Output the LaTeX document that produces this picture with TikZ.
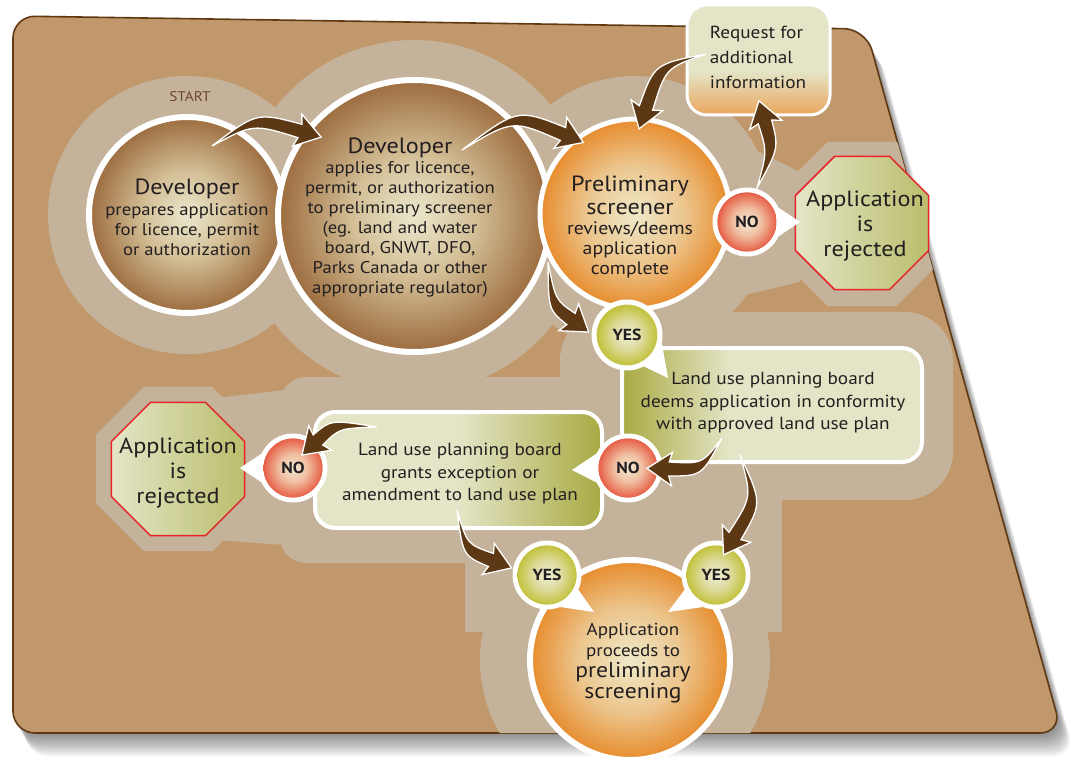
\documentclass[tikz,border=0pt]{standalone}
\usepackage{fontspec}
\setmainfont{PT Sans}[FakeStretch=1.1]
\usetikzlibrary{shapes.geometric,calc}

\definecolor{panelC}{RGB}{193,152,108}
\definecolor{panelB}{RGB}{96,57,19}
\definecolor{haloC}{RGB}{196,178,154}
\definecolor{arrowC}{RGB}{92,56,20}
\definecolor{txtC}{RGB}{35,31,32}
\definecolor{startC}{RGB}{110,72,42}
\definecolor{brC}{RGB}{234,231,204}
\definecolor{brM}{RGB}{212,192,152}
\definecolor{brE}{RGB}{156,108,62}
\definecolor{orC}{RGB}{238,232,200}
\definecolor{orM}{RGB}{236,198,142}
\definecolor{orE}{RGB}{231,140,45}
\definecolor{noC}{RGB}{242,234,212}
\definecolor{noM}{RGB}{240,190,160}
\definecolor{noE}{RGB}{230,96,72}
\definecolor{yeC}{RGB}{238,238,214}
\definecolor{yeM}{RGB}{222,220,160}
\definecolor{yeE}{RGB}{194,194,62}
\definecolor{lightG}{RGB}{228,229,199}
\definecolor{oliveG}{RGB}{168,170,66}
\definecolor{octR}{RGB}{186,190,108}
\definecolor{octB}{RGB}{232,36,40}
\definecolor{reqO}{RGB}{234,166,94}

\pgfdeclareradialshading{brownball}{\pgfpoint{0bp}{0bp}}{color(0bp)=(brC); color(11bp)=(brM); color(25bp)=(brE); color(50bp)=(brE)}
\pgfdeclareradialshading{orangeball}{\pgfpoint{0bp}{0bp}}{color(0bp)=(orC); color(13bp)=(orM); color(25bp)=(orE); color(50bp)=(orE)}
\pgfdeclareradialshading{noball}{\pgfpoint{0bp}{0bp}}{color(0bp)=(noC); color(12bp)=(noM); color(25bp)=(noE); color(50bp)=(noE)}
\pgfdeclareradialshading{yesball}{\pgfpoint{0bp}{0bp}}{color(0bp)=(yeC); color(12bp)=(yeM); color(25bp)=(yeE); color(50bp)=(yeE)}
\pgfdeclarehorizontalshading{deemsh}{100bp}{color(0bp)=(oliveG); color(25bp)=(oliveG); color(43bp)=(lightG); color(100bp)=(lightG)}
\pgfdeclarehorizontalshading{grantsh}{100bp}{color(0bp)=(lightG); color(50bp)=(lightG); color(75bp)=(oliveG); color(100bp)=(oliveG)}
\pgfdeclareverticalshading{reqsh}{100bp}{color(0bp)=(reqO); color(25bp)=(reqO); color(45bp)=(lightG); color(100bp)=(lightG)}

% tapered curved arrow: start, control, head base
\newcommand\tarrow[3]{%
  \filldraw[fill=arrowC, draw=white, line width=1.3pt, line join=miter]
    (#1) .. controls ($(#2)!6pt!-90:(#3)$) .. ($(#3)!7pt!90:(#2)$)
    -- ($(#3)!17pt!80:(#2)$) -- ($(#3)!-22pt!(#2)$)
    -- ($(#3)!17pt!-80:(#2)$) -- ($(#3)!7pt!-90:(#2)$)
    .. controls ($(#2)!6pt!90:(#3)$) .. (#1) -- cycle;}

\begin{document}
\begin{tikzpicture}[x=1pt,y=-1pt,
  ball/.style={circle, shading=#1, draw=white, inner sep=0pt},
  octo/.style={regular polygon, regular polygon sides=8, inner sep=0pt, minimum size=144pt,
     left color=lightG, right color=octR, draw=octB, line width=1.5pt},
  octhalo/.style={regular polygon, regular polygon sides=8, inner sep=0pt, minimum size=178pt, fill=haloC},
  tbox/.style={rectangle, rounded corners=20pt, draw=white, line width=4pt, inner sep=0pt},
  txt/.style={text=txtC, align=center, inner sep=0pt},
  body/.style={font=\fontsize{17}{20}\selectfont},
  yn/.style={text=txtC, font=\bfseries\fontsize{16}{16}\selectfont, inner sep=0pt}]
\useasboundingbox (0,0) rectangle (1071,759);
\fill[white] (0,0) rectangle (1071,759);

% shadow of the panel
\foreach \i in {1,...,10}{
  \fill[black, opacity=0.05, rounded corners=22pt, shift={(1.3*\i,2.3*\i)}]
    (13,16) -- (866,29) -- (1062,733) -- (13,733) -- cycle;
}
% panel
\fill[panelC, draw=panelB, line width=1.6pt, rounded corners=22pt]
  (13,16) -- (866,29) -- (1062,733) -- (13,733) -- cycle;

% light band behind the flow
\begin{scope}
  \clip[rounded corners=22pt] (13,16) -- (866,29) -- (1062,733) -- (13,733) -- cycle;
  \fill[haloC] (187,215) circle (139);
  \fill[haloC] (414,216) circle (176);
  \fill[haloC] (635,214) circle (138);
  \fill[haloC] (700,150) -- (745,145) -- (800,172) -- (800,282) -- (745,295) -- (700,305) -- cycle;
  \node[octhalo] (haloR) at (862,224) {};
  \fill[haloC, rounded corners=48pt] (560,312) rectangle (953,500);
  \fill[haloC, rounded corners=26pt] (280,377) rectangle (700,563);
  \fill[haloC] (215,398) -- (285,390) -- (285,545) -- (215,540) -- cycle;
  \node[octhalo] (haloL) at (178,469) {};
  \fill[haloC] (465,480) rectangle (782,632);
  \fill[haloC] (625,660) circle (145);
\end{scope}

% main circles
\node[ball=brownball, minimum size=196pt, line width=6pt] (devA) at (187,215) {};
\node[ball=brownball, minimum size=272pt, line width=6pt] (devB) at (414,216) {};
\node[ball=orangeball, minimum size=190pt, line width=5pt] (prelim) at (635,214) {};

% boxes
\node[tbox, shading=reqsh, line width=3pt, minimum width=143pt, minimum height=110pt] (req) at (758.5,60) {};
\node[tbox, shading=deemsh, minimum width=300pt, minimum height=114pt] (deems) at (772,405) {};
\node[tbox, shading=grantsh, minimum width=287pt, minimum height=116pt] (grants) at (458.5,470) {};

% rejected octagons
\node[octo] (rej1) at (862,223) {};
\node[octo] (rej2) at (178,469) {};

% final circle
\node[ball=orangeball, minimum size=200pt, line width=6pt] (proceed) at (630,660) {};

% small decision circles
\node[ball=noball, minimum size=64pt, line width=5pt] (no1) at (747,222) {};
\node[ball=yesball, minimum size=66pt, line width=5pt] (yes1) at (627,335) {};
\node[ball=noball, minimum size=64pt, line width=5pt] (no2) at (628,468) {};
\node[ball=noball, minimum size=64pt, line width=5pt] (no3) at (293,468) {};
\node[ball=yesball, minimum size=64pt, line width=5pt] (yes2) at (547,575) {};
\node[ball=yesball, minimum size=64pt, line width=5pt] (yes3) at (716,575) {};

% pointers
\coordinate (p1) at (800,222);
\coordinate (p2) at (668,378);
\coordinate (p3) at (572,470);
\coordinate (p4) at (240,468);
\coordinate (p5) at (594,612);
\coordinate (p6) at (668,612);
\fill[white] (no1.25) -- (p1) -- (no1.-25) -- cycle;
\fill[white] (yes1.-12) -- (p2) -- (yes1.-62) -- cycle;
\fill[white] (no2.155) -- (p3) -- (no2.205) -- cycle;
\fill[white] (no3.155) -- (p4) -- (no3.205) -- cycle;
\fill[white] (yes2.-25) -- (p5) -- (yes2.-68) -- cycle;
\fill[white] (yes3.-112) -- (p6) -- (yes3.-155) -- cycle;
% redraw small circle faces over pointer bases
\foreach \n/\s in {no1/noball,yes1/yesball,no2/noball,no3/noball,yes2/yesball,yes3/yesball}{
  \shade[shading=\s] (\n.center) circle (29.5);
}

% texts
\node[text=startC, font=\fontsize{14}{14}\selectfont, inner sep=0pt] (start) at (190,97) {START};
\node[txt, body] (devA-t) at (187,217) {{\fontsize{22}{22}\selectfont Developer}\\[1pt]prepares application\\for licence, permit\\or authorization};
\node[txt, body] (devB-t) at (400,218) {{\fontsize{22}{22}\selectfont Developer}\\applies for licence,\\permit, or authorization\\to preliminary screener\\(eg. land and water\\board, GNWT, DFO,\\Parks Canada or other\\appropriate regulator)};
\node[txt, font=\fontsize{18}{20}\selectfont] (prelim-t) at (630,227) {{\fontsize{22}{24}\selectfont Preliminary}\\[3pt]{\fontsize{22}{24}\selectfont screener}\\reviews/deems\\application\\complete};
\node[text=txtC, align=left, inner sep=0pt, font=\fontsize{17.5}{25}\selectfont] (req-t) at (758,57) {Request for\\additional\\information};
\node[txt, font=\fontsize{22}{25}\selectfont] (rej1-t) at (865,226) {Application\\is\\rejected};
\node[txt, font=\fontsize{22}{25}\selectfont] (rej2-t) at (178,473) {Application\\is\\rejected};
\node[txt, font=\fontsize{17.5}{22.5}\selectfont] (deems-t) at (773,403) {Land use planning board\\deems application in conformity\\with approved land use plan};
\node[txt, font=\fontsize{17.5}{22.5}\selectfont] (grants-t) at (460,474) {Land use planning board\\grants exception or\\amendment to land use plan};
\node[txt, font=\fontsize{17.3}{21}\selectfont] (proceed-t) at (633,663) {Application\\proceeds to\\{\fontsize{21.5}{24}\selectfont preliminary}\\{\fontsize{21.5}{24}\selectfont screening}};
\node[yn] at (no1) {NO};
\node[yn] at (no2) {NO};
\node[yn] at (no3) {NO};
\node[yn] at (yes1) {YES};
\node[yn] at (yes2) {YES};
\node[yn] at (yes3) {YES};

% arrows
\coordinate (aS) at (212,146); \coordinate (aC) at (255,118); \coordinate (aE) at (300,131);
\coordinate (bS) at (462,150); \coordinate (bC) at (515,114); \coordinate (bE) at (563,134);
\coordinate (cS) at (706,54);  \coordinate (cC) at (660,66);  \coordinate (cE) at (646,108);
\coordinate (dS) at (757,188); \coordinate (dC) at (773,150); \coordinate (dE) at (765,122);
\coordinate (eS) at (548,262); \coordinate (eC) at (552,305); \coordinate (eE) at (571,319);
\coordinate (fS) at (722,438); \coordinate (fC) at (702,470); \coordinate (fE) at (669,469);
\coordinate (gS) at (740,455); \coordinate (gC) at (757,500); \coordinate (gE) at (735,536);
\coordinate (hS) at (377,427); \coordinate (hC) at (335,424); \coordinate (hE) at (318,440);
\coordinate (iS) at (457,510); \coordinate (iC) at (465,550); \coordinate (iE) at (491,560);
\tarrow{aS}{aC}{aE}
\tarrow{bS}{bC}{bE}
\tarrow{cS}{cC}{cE}
\tarrow{dS}{dC}{dE}
\tarrow{eS}{eC}{eE}
\tarrow{fS}{fC}{fE}
\tarrow{gS}{gC}{gE}
\tarrow{hS}{hC}{hE}
\tarrow{iS}{iC}{iE}
\end{tikzpicture}
\end{document}
